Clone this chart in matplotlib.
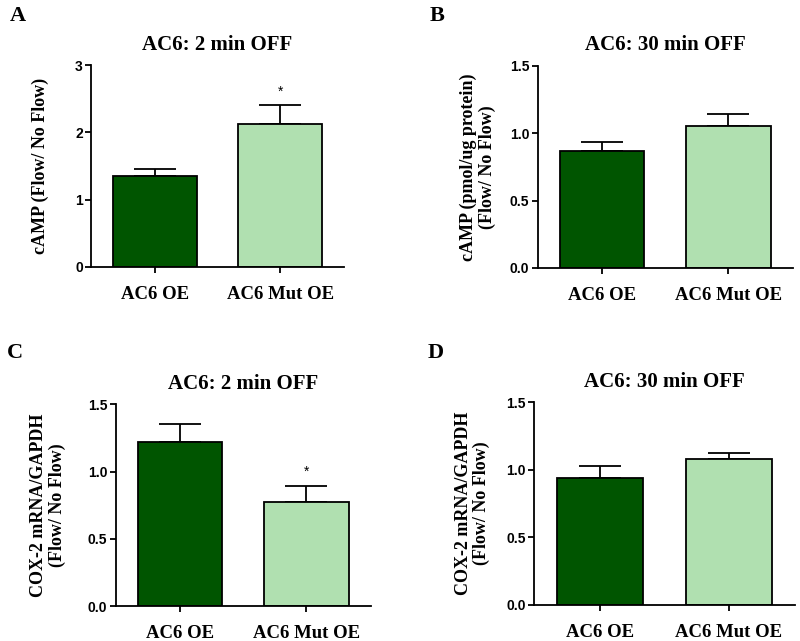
import matplotlib
matplotlib.use("Agg")
import matplotlib.pyplot as plt

groups = ["AC6 OE", "AC6 Mut OE"]

# panel A: cAMP, 2 min OFF
camp_2min = [1.35, 2.12]
camp_2min_err = [0.11, 0.28]
# panel B: cAMP, 30 min OFF
camp_30min = [0.87, 1.055]
camp_30min_err = [0.066, 0.085]
# panel C: COX-2 mRNA, 2 min OFF
cox_2min = [1.22, 0.776]
cox_2min_err = [0.13, 0.116]
# panel D: COX-2 mRNA, 30 min OFF
cox_30min = [0.942, 1.08]
cox_30min_err = [0.084, 0.047]

colors = ["#005500", "#b0e0b0"]
serif = "Liberation Serif"
sans = "Liberation Sans"

fig = plt.figure(figsize=(8, 6.41), dpi=100)

panels = [
    ("A", [0.114, 0.5835, 0.316, 0.315], camp_2min, camp_2min_err, "AC6: 2 min OFF",
     "cAMP (Flow/ No Flow)", [0, 1, 2, 3], ["0", "1", "2", "3"], 3, True, -0.2),
    ("B", [0.672, 0.582, 0.319, 0.3155], camp_30min, camp_30min_err, "AC6: 30 min OFF",
     "cAMP (pmol/ug protein)\n(Flow/ No Flow)", [0, 0.5, 1.0, 1.5], ["0.0", "0.5", "1.0", "1.5"], 1.5, False, -0.235),
    ("C", [0.1446, 0.0546, 0.319, 0.3147], cox_2min, cox_2min_err, "AC6: 2 min OFF",
     "COX-2 mRNA/GAPDH\n(Flow/ No Flow)", [0, 0.5, 1.0, 1.5], ["0.0", "0.5", "1.0", "1.5"], 1.5, True, -0.265),
    ("D", [0.6675, 0.0562, 0.326, 0.3162], cox_30min, cox_30min_err, "AC6: 30 min OFF",
     "COX-2 mRNA/GAPDH\n(Flow/ No Flow)", [0, 0.5, 1.0, 1.5], ["0.0", "0.5", "1.0", "1.5"], 1.5, False, -0.236),
]

letter_pos = {"A": (0.012, 0.99), "B": (0.537, 0.99), "C": (0.008, 0.465), "D": (0.535, 0.465)}

for letter, rect, vals, errs, title, ylabel, yt, ytl, ymax, star, lab_x in panels:
    ax = fig.add_axes(rect)
    x = [0, 1]
    ax.bar(x, vals, width=0.67, color=colors, edgecolor="black", linewidth=1.3, zorder=2)
    ax.errorbar(x, vals, yerr=[[0, 0], errs], fmt="none", ecolor="black",
                elinewidth=1.3, capsize=15, capthick=1.3, zorder=1)
    if star:
        ax.text(1, vals[1] + errs[1] + ymax * 0.035, "*", ha="center", va="bottom",
                fontsize=10, fontfamily=sans)
    ax.set_xlim(-0.51, 1.51)
    ax.set_ylim(0, ymax)
    ax.spines["top"].set_visible(False)
    ax.spines["right"].set_visible(False)
    ax.spines["left"].set_linewidth(1.3)
    ax.spines["bottom"].set_linewidth(1.3)
    ax.set_xticks(x)
    ax.set_xticklabels(groups, fontfamily=serif, fontweight="bold", fontsize=13.5)
    ax.set_yticks(yt)
    ax.set_yticklabels(ytl, fontfamily=sans, fontweight="bold", fontsize=10)
    ax.tick_params(axis="both", direction="out", length=4, width=1.3)
    ax.tick_params(axis="x", pad=10)
    ax.tick_params(axis="y", pad=2)
    ax.set_ylabel(ylabel, fontfamily=serif, fontweight="bold", fontsize=13,
                  linespacing=1.1)
    ax.yaxis.set_label_coords(lab_x, 0.5)
    ax.yaxis.label.set_va("center")
    ax.set_title(title, fontfamily=serif, fontweight="bold", fontsize=15, pad=11)
    lx, ly = letter_pos[letter]
    fig.text(lx, ly, letter, fontfamily=serif, fontweight="bold", fontsize=16,
             ha="left", va="top")

fig.savefig("out.png", dpi=100)
